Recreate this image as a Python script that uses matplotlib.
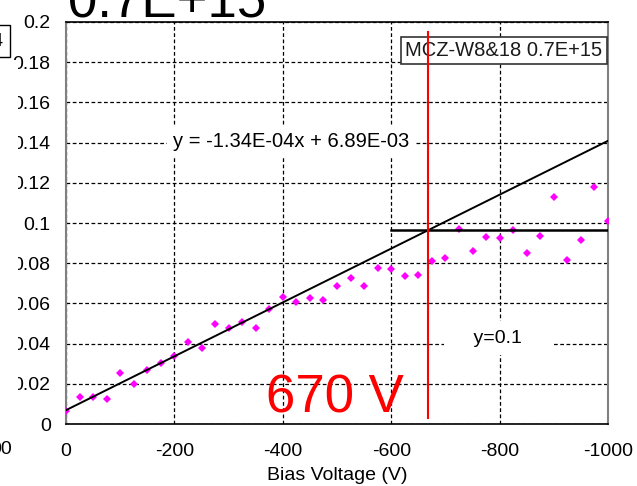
import matplotlib
matplotlib.use("Agg")
import matplotlib.pyplot as plt
from matplotlib.patches import Rectangle
import numpy as np

plt.rcParams['font.family'] = ['Liberation Sans', 'DejaVu Sans']

# Data
bias_voltage = [0, -25, -50, -75, -100, -125, -150, -175, -200, -225, -250, -275, -300,
                -325, -350, -375, -400, -425, -450, -475, -500, -525, -550, -575, -600,
                -625, -650, -675, -700, -725, -750, -775, -800, -825, -850, -875, -900,
                -925, -950, -975, -1000]
signal = [0.0064, 0.0133, 0.0132, 0.0123, 0.0255, 0.0201, 0.0270, 0.0304, 0.0337, 0.0410,
          0.0380, 0.0500, 0.0477, 0.0507, 0.0479, 0.0573, 0.0633, 0.0608, 0.0628, 0.0616,
          0.0688, 0.0724, 0.0686, 0.0775, 0.0770, 0.0734, 0.0739, 0.0809, 0.0825, 0.0968,
          0.0862, 0.0930, 0.0926, 0.0966, 0.0853, 0.0934, 0.1127, 0.0815, 0.0914, 0.1178,
          0.1011]
fit_slope = -1.34e-4
fit_intercept = 6.89e-3
fit_range = [0, -1000]
plateau_level = 0.0966
plateau_range = [-600, -1000]
depletion_voltage = -667
red_line_range = [0.003, 0.195]

x_ticks = [0, -200, -400, -600, -800, -1000]
x_ticklabels = ['0', '-200', '-400', '-600', '-800', '-1000']
y_ticks = [0, 0.02, 0.04, 0.06, 0.08, 0.1, 0.12, 0.14, 0.16, 0.18, 0.2]
y_ticklabels = ['0', '0.02', '0.04', '0.06', '0.08', '0.1', '0.12', '0.14', '0.16', '0.18', '0.2']

W, H = 637, 486
fig = plt.figure(figsize=(W / 100, H / 100), dpi=100)
ax = fig.add_axes([66 / W, 1 - 424 / H, (608 - 66) / W, (424 - 22) / H])

ax.set_xlim(0, -1000)
ax.set_ylim(0, 0.2)

ax.grid(True, color='black', linestyle=(0, (3, 2)), linewidth=0.9)
ax.set_axisbelow(True)

ax.plot(bias_voltage, signal, linestyle='none', marker='D', markersize=4.4,
        color='#FF00FF', markeredgewidth=0, zorder=3)

fx = np.array(fit_range, dtype=float)
ax.plot(fx, fit_slope * fx + fit_intercept, color='black', linewidth=1.4, zorder=4)
ax.plot(plateau_range, [plateau_level, plateau_level], color='black', linewidth=1.8, zorder=4)
ax.plot([depletion_voltage, depletion_voltage], red_line_range, color='red', linewidth=1.5, zorder=6)

ax.set_xticks(x_ticks)
ax.set_xticklabels(x_ticklabels)
ax.set_yticks(y_ticks)
ax.set_yticklabels(y_ticklabels)
ax.tick_params(axis='both', length=0, labelsize=14)
ax.tick_params(axis='x', pad=13.5)
ax.tick_params(axis='y', pad=11)

for s in ['left', 'right']:
    ax.spines[s].set_color('#808080')
    ax.spines[s].set_linewidth(1.5)
for s in ['top', 'bottom']:
    ax.spines[s].set_color('black')
    ax.spines[s].set_linewidth(1.2)

ax.set_xlabel('Bias Voltage (V)', fontsize=14, va='baseline')
ax.xaxis.set_label_coords(0.5, (424 - 480) / 402)

ax.text(-416, 0.1405, 'y = -1.34E-04x + 6.89E-03', fontsize=14.5, ha='center', va='center',
        bbox=dict(boxstyle='square,pad=0.3', facecolor='white', edgecolor='none'), zorder=5)
ax.text(-797, 0.0427, '    y=0.1    ', fontsize=14, ha='center', va='center',
        bbox=dict(boxstyle='square,pad=0.45', facecolor='white', edgecolor='none'), zorder=5)
ax.text(0.808, 0.929, 'MCZ-W8&18 0.7E+15', transform=ax.transAxes, fontsize=14.5,
        ha='center', va='center', color='#1a1a1a',
        bbox=dict(boxstyle='square,pad=0.2', facecolor='white', edgecolor='#333333', linewidth=1.2),
        zorder=5)
ax.text(-369, 0.0059, '670 V', color='red', fontsize=38, ha='left', va='baseline', zorder=7)

# white strip of the neighbouring panel that hides the left edge of the tick labels
fig.patches.append(Rectangle((0, 1 - 415 / H), 18 / W, (415 - 60) / H,
                             transform=fig.transFigure, facecolor='white',
                             edgecolor='none', zorder=10))

fig.text(68 / W, 1 - 17 / H, '0.7E+15', fontsize=38, ha='left', va='baseline')
fig.text(3 / W, 1 - 41 / H, '4', fontsize=13, ha='right', va='center',
         bbox=dict(boxstyle='square,pad=0.4', facecolor='white', edgecolor='black', linewidth=1))
fig.text(12 / W, 1 - 449 / H, '00', fontsize=14, ha='right', va='center')

fig.savefig('out.png', dpi=100)
